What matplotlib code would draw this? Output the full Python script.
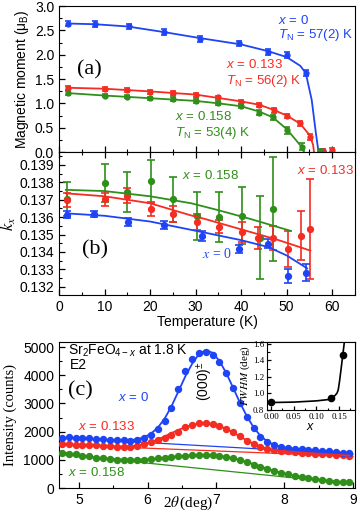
import matplotlib
matplotlib.use('Agg')
import matplotlib.pyplot as plt
from matplotlib.ticker import MultipleLocator, FormatStrFormatter

plt.rcParams['font.family'] = ['Liberation Sans', 'DejaVu Sans']
plt.rcParams['mathtext.fontset'] = 'custom'
plt.rcParams['mathtext.rm'] = 'Liberation Sans'
plt.rcParams['mathtext.it'] = 'Liberation Sans:italic'
plt.rcParams['mathtext.bf'] = 'Liberation Sans:bold'

AZUL = '#1e44f5'
VERMELHO = '#f42c22'
VERDE = '#2f8f1a'
SERIF = 'Liberation Serif'

# (a) momento magnetico
t_a_x0 = [2, 8, 15.4, 23, 31, 39.6, 46, 50, 54.2, 58]
m_a_x0 = [2.64, 2.63, 2.58, 2.46, 2.33, 2.23, 2.06, 1.99, 1.62, 0.02]
e_a_x0 = [0.06, 0.06, 0.06, 0.06, 0.06, 0.06, 0.06, 0.06, 0.06, 0.03]
t_a_x133 = [2, 10, 15, 20, 25, 30, 35, 40, 44, 47.3, 50, 53, 55.2, 58, 60]
m_a_x133 = [1.31, 1.30, 1.27, 1.24, 1.21, 1.18, 1.12, 1.03, 0.97, 0.86, 0.74, 0.59, 0.31, 0.02, 0.04]
e_a_x133 = [0.04, 0.04, 0.04, 0.04, 0.04, 0.04, 0.04, 0.04, 0.04, 0.05, 0.05, 0.05, 0.06, 0.04, 0.04]
t_a_x158 = [2, 10, 15, 20, 25, 30, 35, 40, 44, 47, 50, 53.3, 57.4]
m_a_x158 = [1.21, 1.16, 1.14, 1.10, 1.08, 1.05, 1.00, 0.95, 0.81, 0.71, 0.45, 0.11, 0.03]
e_a_x158 = [0.04, 0.04, 0.04, 0.04, 0.04, 0.04, 0.04, 0.04, 0.05, 0.05, 0.07, 0.07, 0.04]

# curvas de ajuste (a)
tf_a_x0 = [2, 8, 15, 23, 31, 40, 46, 50, 53, 54.2, 55.5, 56.4, 57]
mf_a_x0 = [2.64, 2.625, 2.58, 2.465, 2.34, 2.21, 2.07, 1.95, 1.77, 1.62, 1.07, 0.40, 0.0]
tf_a_x133 = [2, 10, 20, 30, 35, 40, 44, 47, 50, 53, 55, 55.8, 56]
mf_a_x133 = [1.32, 1.30, 1.245, 1.18, 1.11, 1.04, 0.97, 0.87, 0.75, 0.58, 0.35, 0.15, 0.0]
tf_a_x158 = [2, 10, 20, 30, 35, 40, 44, 47, 50, 52, 53.3, 53.8]
mf_a_x158 = [1.21, 1.16, 1.105, 1.05, 1.00, 0.94, 0.83, 0.71, 0.47, 0.25, 0.10, 0.0]

# (b) k_x
t_b_x0 = [1.8, 7.7, 15.2, 23.1, 31.4, 39.6, 46, 50.2, 54.3]
k_b_x0 = [0.13613, 0.13618, 0.13574, 0.13555, 0.13492, 0.13417, 0.13447, 0.13262, 0.13281]
e_b_x0 = [0.0002, 0.00018, 0.00022, 0.00024, 0.00029, 0.00022, 0.00026, 0.0004, 0.0005]
t_b_x133 = [1.8, 10, 15, 20.1, 25.1, 30.3, 35.2, 40.2, 43.8, 47.1, 50.2, 53.1, 55.2]
k_b_x133 = [0.13700, 0.13703, 0.13724, 0.13645, 0.13618, 0.13574, 0.13545, 0.13513, 0.13479,
            0.13482, 0.13417, 0.13494, 0.13532]
e_b_x133 = [0.0004, 0.00038, 0.00043, 0.00038, 0.00045, 0.00046, 0.00036, 0.00058, 0.00064,
            0.0007, 0.00105, 0.0014, 0.0029]
t_b_x158 = [1.8, 10, 15, 20.1, 25.1, 30.2, 35.2, 40.2, 44.2, 47.1]
k_b_x158 = [0.13705, 0.13798, 0.13747, 0.13810, 0.13703, 0.13606, 0.13603, 0.13609, 0.13482, 0.13647]
e_b_x158 = [0.00096, 0.0011, 0.00115, 0.0012, 0.0013, 0.00136, 0.00144, 0.00165, 0.0024, 0.003]

tf_b_x0 = [1.5, 10, 20, 30, 40, 46, 50, 54.5]
kf_b_x0 = [0.13622, 0.13608, 0.13575, 0.13522, 0.13468, 0.13428, 0.13380, 0.13306]
tf_b_x133 = [1.5, 10, 20, 29, 32, 40, 48, 55.2]
kf_b_x133 = [0.13737, 0.13720, 0.13680, 0.13610, 0.13590, 0.13530, 0.13470, 0.13408]
tf_b_x158 = [1.5, 10, 20, 29, 35, 42, 50.8]
kf_b_x158 = [0.13757, 0.13750, 0.13720, 0.13680, 0.13640, 0.13590, 0.13522]

# (c) varredura 2theta
dois_theta = [4.75, 4.85, 4.95, 5.05, 5.15, 5.25, 5.35, 5.45, 5.55, 5.65, 5.75, 5.85, 5.95,
              6.05, 6.15, 6.25, 6.35, 6.45, 6.55, 6.65, 6.75, 6.85, 6.95, 7.05, 7.15, 7.25,
              7.35, 7.45, 7.55, 7.65, 7.75, 7.85, 7.95, 8.05, 8.15, 8.25, 8.35, 8.45, 8.55,
              8.65, 8.75, 8.85, 8.95]
int_x0 = [1790, 1800, 1780, 1770, 1760, 1750, 1740, 1720, 1700, 1690, 1680, 1700, 1760,
          1880, 2080, 2380, 2830, 3530, 4150, 4560, 4780, 4830, 4720, 4480, 4070, 3540,
          3000, 2510, 2120, 1820, 1640, 1530, 1460, 1420, 1400, 1380, 1360, 1340, 1320,
          1300, 1280, 1260, 1230]
fit_x0 = [1790, 1780, 1770, 1755, 1745, 1730, 1720, 1705, 1695, 1690, 1700, 1730, 1800,
          1930, 2140, 2460, 2900, 3420, 3950, 4400, 4750, 4890, 4800, 4510, 4080, 3560,
          3030, 2550, 2150, 1850, 1650, 1530, 1460, 1420, 1390, 1370, 1350, 1330, 1310,
          1290, 1270, 1250, 1235]
int_x133 = [1570, 1560, 1540, 1530, 1520, 1510, 1500, 1480, 1460, 1450, 1470, 1500, 1560,
            1640, 1700, 1770, 1880, 1990, 2150, 2250, 2290, 2300, 2270, 2210, 2110, 1980,
            1830, 1680, 1550, 1460, 1390, 1350, 1320, 1300, 1280, 1260, 1240, 1220, 1200,
            1190, 1170, 1160, 1150]
fit_x133 = [1560, 1550, 1535, 1525, 1515, 1500, 1490, 1480, 1470, 1470, 1480, 1510, 1560,
            1630, 1720, 1830, 1950, 2060, 2160, 2240, 2290, 2300, 2270, 2200, 2100, 1970,
            1830, 1690, 1570, 1470, 1400, 1350, 1320, 1300, 1280, 1260, 1240, 1225, 1210,
            1195, 1180, 1165, 1150]
int_x158 = [1260, 1220, 1190, 1150, 1120, 1080, 1060, 1040, 1000, 1010, 980, 990, 1000,
            1020, 1050, 1080, 1100, 1130, 1150, 1160, 1170, 1170, 1160, 1140, 1110, 1070,
            1000, 920, 830, 740, 660, 590, 530, 480, 430, 390, 350, 310, 280, 250, 230,
            210, 200]
fit_x158 = [1280, 1230, 1190, 1150, 1115, 1085, 1060, 1040, 1025, 1015, 1010, 1010, 1015,
            1030, 1050, 1075, 1100, 1125, 1145, 1160, 1170, 1170, 1160, 1140, 1105, 1060,
            1000, 930, 850, 765, 685, 610, 545, 490, 440, 395, 355, 320, 290, 260, 235,
            215, 195]
fundo_theta = [4.7, 9.0]
fundo_x0 = [1790, 1200]
fundo_x133 = [1540, 1120]
fundo_x158 = [1200, 150]

# inset FWHM
x_inset = [0.0, 0.133, 0.158]
fwhm_inset = [0.90, 0.95, 1.46]
xf_inset = [0.0, 0.05, 0.10, 0.125, 0.133, 0.14, 0.145, 0.148, 0.151, 0.154, 0.158, 0.162]
yf_inset = [0.89, 0.895, 0.91, 0.925, 0.945, 0.97, 1.0, 1.04, 1.15, 1.28, 1.46, 1.64]


def estilo_ticks(ax, tamanho=10):
    ax.tick_params(which='both', direction='in', labelsize=tamanho)
    ax.tick_params(which='major', length=4, width=0.9)
    ax.tick_params(which='minor', length=2.2, width=0.8)


fig = plt.figure(figsize=(3.6, 5.13), dpi=100)
axa = fig.add_axes([0.164, 0.7037, 0.822, 0.2846])
axb = fig.add_axes([0.164, 0.4250, 0.822, 0.2788], sharex=axa)
axc = fig.add_axes([0.164, 0.0487, 0.822, 0.2846])
axi = fig.add_axes([0.7417, 0.2008, 0.2444, 0.1326])

# ---- painel (a)
kw_err = dict(fmt='o', ms=3.5, capsize=2.5, elinewidth=1.2, capthick=1.2, zorder=3)
for t, m, e, tf, mf, cor in [(t_a_x0, m_a_x0, e_a_x0, tf_a_x0, mf_a_x0, AZUL),
                             (t_a_x133, m_a_x133, e_a_x133, tf_a_x133, mf_a_x133, VERMELHO),
                             (t_a_x158, m_a_x158, e_a_x158, tf_a_x158, mf_a_x158, VERDE)]:
    axa.plot(tf, mf, color=cor, lw=1.3, zorder=2)
    axa.errorbar(t, m, yerr=e, color=cor, **kw_err)
axa.set_xlim(0, 65)
axa.set_ylim(0, 3.0)
axa.yaxis.set_major_locator(MultipleLocator(0.5))
axa.yaxis.set_minor_locator(MultipleLocator(0.25))
axa.yaxis.set_major_formatter(FormatStrFormatter('%.1f'))
axa.xaxis.set_major_locator(MultipleLocator(10))
axa.xaxis.set_minor_locator(MultipleLocator(5))
estilo_ticks(axa)
axa.tick_params(labelbottom=False)
axa.set_ylabel('Magnetic moment (μ$_\\mathrm{B}$)', fontsize=10, labelpad=3)
axa.text(4, 1.69, '(a)', family=SERIF, fontsize=16, va='center')
axa.text(48.2, 2.71, '$x$ = 0', color=AZUL, fontsize=9.5, va='center')
axa.text(48.2, 2.40, '$T_\\mathrm{N}$ = 57(2) K', color=AZUL, fontsize=9.5, va='center')
axa.text(36.6, 1.79, '$x$ = 0.133', color=VERMELHO, fontsize=9.5, va='center')
axa.text(36.6, 1.46, '$T_\\mathrm{N}$ = 56(2) K', color=VERMELHO, fontsize=9.5, va='center')
axa.text(25.5, 0.73, '$x$ = 0.158', color=VERDE, fontsize=9.5, va='center')
axa.text(25.5, 0.40, '$T_\\mathrm{N}$ = 53(4) K', color=VERDE, fontsize=9.5, va='center')

# ---- painel (b)
kw_err_b = dict(fmt='o', ms=4.2, capsize=3, elinewidth=1.2, capthick=1.2, zorder=3)
for t, k, e, tf, kf, cor in [(t_b_x158, k_b_x158, e_b_x158, tf_b_x158, kf_b_x158, VERDE),
                             (t_b_x133, k_b_x133, e_b_x133, tf_b_x133, kf_b_x133, VERMELHO),
                             (t_b_x0, k_b_x0, e_b_x0, tf_b_x0, kf_b_x0, AZUL)]:
    axb.plot(tf, kf, color=cor, lw=1.3, zorder=4)
    axb.errorbar(t, k, yerr=e, color=cor, **kw_err_b)
axb.set_ylim(0.13153, 0.139747)
axb.yaxis.set_major_locator(MultipleLocator(0.001))
axb.yaxis.set_minor_locator(MultipleLocator(0.0005))
axb.yaxis.set_major_formatter(FormatStrFormatter('%.3f'))
estilo_ticks(axb)
axb.tick_params(which='both', top=True)
axb.set_xlabel('Temperature (K)', fontsize=10, labelpad=1)
axb.set_ylabel('$k_x$', fontsize=12, math_fontfamily='stix')
axb.yaxis.set_label_coords(-0.138, 0.5)
axb.text(5.0, 0.13412, '(b)', family=SERIF, fontsize=16, va='center')
axb.text(27, 0.13837, '$x$ = 0.158', color=VERDE, fontsize=9.5, va='center')
axb.text(52.2, 0.13871, '$x$ = 0.133', color=VERMELHO, fontsize=9.5, va='center')
axb.text(31.5, 0.13389, '$x$ = 0', color=AZUL, fontsize=10, va='center',
         family=SERIF, math_fontfamily='stix')

# ---- painel (c)
for i_dados, i_fit, fundo, cor in [(int_x158, fit_x158, fundo_x158, VERDE),
                                   (int_x133, fit_x133, fundo_x133, VERMELHO),
                                   (int_x0, fit_x0, fundo_x0, AZUL)]:
    axc.plot(fundo_theta, fundo, color=cor, lw=0.9, zorder=2)
    axc.plot(dois_theta, i_dados, 'o', color=cor, ms=4.3, zorder=3)
    axc.plot(dois_theta, i_fit, color=cor, lw=1.3, zorder=4)
axc.set_xlim(4.708, 9.03)
axc.set_ylim(0, 5180)
axc.xaxis.set_major_locator(MultipleLocator(1))
axc.xaxis.set_minor_locator(MultipleLocator(0.5))
axc.yaxis.set_major_locator(MultipleLocator(1000))
axc.yaxis.set_minor_locator(MultipleLocator(500))
estilo_ticks(axc)
axc.set_ylabel('Intensity (counts)', family=SERIF, fontsize=10.5, labelpad=4)
axc.set_xlabel('2$\\theta\\,$(deg)', family=SERIF, fontsize=11, math_fontfamily='stix')
axc.xaxis.set_label_coords(0.435, -0.045)
axc.text(4.84, 4880, 'Sr$_2$FeO$_{4-x}$ at 1.8 K', fontsize=10, va='center')
axc.text(4.87, 4380, 'E2', fontsize=10, va='center')
axc.text(4.84, 3430, '(c)', family=SERIF, fontsize=16, va='center')
axc.text(5.57, 3200, '$x$ = 0', color=AZUL, fontsize=9.5, va='center')
axc.text(4.99, 2180, '$x$ = 0.133', color=VERMELHO, fontsize=9.5, va='center')
axc.text(4.84, 540, '$x$ = 0.158', color=VERDE, fontsize=9.5, va='center')
axc.text(6.84, 3800, '(000)$^{\\pm}$', rotation=90, fontsize=10, ha='center', va='center')

# ---- inset
axi.plot(xf_inset, yf_inset, color='black', lw=1.2)
axi.plot(x_inset, fwhm_inset, 'o', color='black', ms=4.5)
axi.set_xlim(-0.009, 0.185)
axi.set_ylim(0.8, 1.62)
axi.xaxis.set_major_locator(MultipleLocator(0.05))
axi.xaxis.set_minor_locator(MultipleLocator(0.025))
axi.yaxis.set_major_locator(MultipleLocator(0.2))
axi.yaxis.set_minor_locator(MultipleLocator(0.1))
axi.xaxis.set_major_formatter(FormatStrFormatter('%.2f'))
axi.yaxis.set_major_formatter(FormatStrFormatter('%.1f'))
estilo_ticks(axi, tamanho=6.5)
axi.tick_params(which='major', length=3, pad=2)
axi.tick_params(which='minor', length=1.8)
for rotulo in axi.get_xticklabels() + axi.get_yticklabels():
    rotulo.set_family(SERIF)
axi.set_xlabel('$x$', fontsize=9, labelpad=0)
axi.set_ylabel('$FWHM$ (deg)', family=SERIF, fontsize=8, math_fontfamily='stix', labelpad=1)

fig.savefig('out.png', dpi=100)
